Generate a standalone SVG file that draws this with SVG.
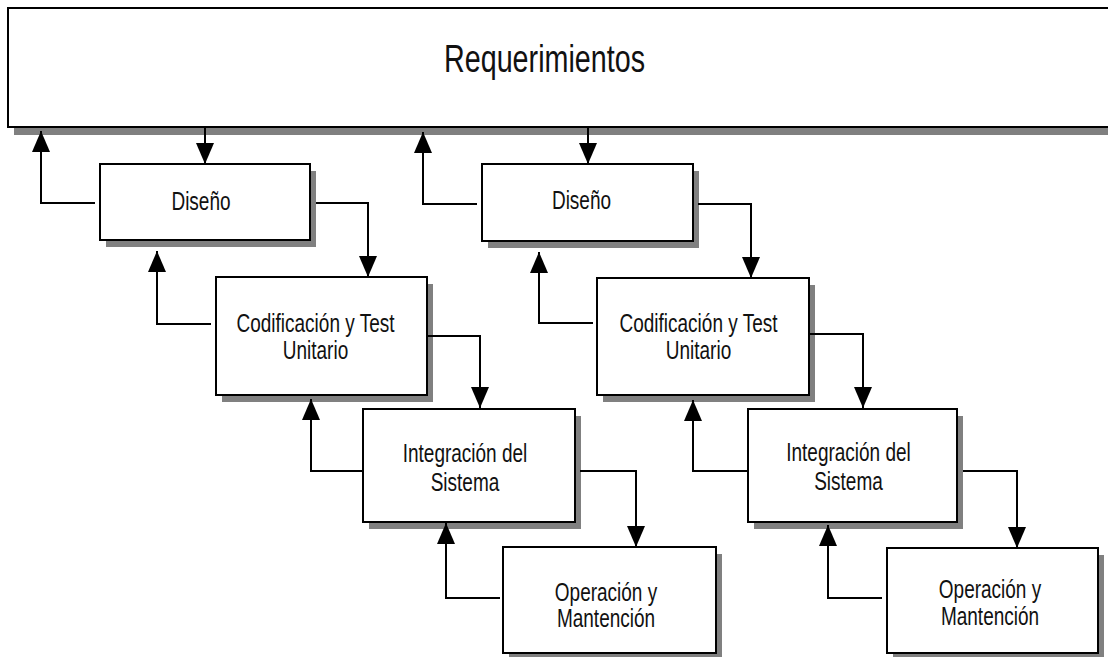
<svg xmlns="http://www.w3.org/2000/svg" width="1108" height="657" viewBox="0 0 1108 657">
<style>
.shadow{fill:#808080;stroke:none}
.box{fill:#fff;stroke:#000;stroke-width:2}
.lbl{font-family:"Liberation Sans",Arial,sans-serif;font-size:19px;fill:#111;text-anchor:middle}
.big{font-size:28.7px}
.conn path{fill:none;stroke:#000;stroke-width:2;marker-end:url(#arr)}
</style>
<defs>
<marker id="arr" markerUnits="userSpaceOnUse" markerWidth="22" markerHeight="18" refX="21" refY="9" orient="auto">
<path d="M0,0 L21,9 L0,18 Z" fill="#000"/>
</marker>
</defs>
<rect width="1108" height="657" fill="#fff"/>

<g id="requerimientos">
<rect class="shadow" x="14" y="16" width="1110" height="119"/>
<rect class="box" x="8" y="8" width="1110" height="119"/>
<text class="lbl big" transform="translate(544.5,72) scale(1,1.38)">Requerimientos</text>
</g>

<g id="diseno1">
<rect class="shadow" x="106" y="171" width="210" height="76"/>
<rect class="box" x="100" y="164" width="210" height="76"/>
<text class="lbl" transform="translate(201,210) scale(1,1.33)">Diseño</text>
</g>
<g id="codificacion1">
<rect class="shadow" x="222" y="284" width="211" height="118"/>
<rect class="box" x="216" y="277" width="211" height="118"/>
<text class="lbl" transform="translate(315.5,332) scale(1,1.33)"><tspan x="0" y="0">Codificación y Test</tspan><tspan x="0" y="20.3">Unitario</tspan></text>
</g>
<g id="integracion1">
<rect class="shadow" x="369" y="416" width="212" height="113"/>
<rect class="box" x="363" y="409" width="212" height="113"/>
<text class="lbl" transform="translate(465,462) scale(1,1.33)"><tspan x="0" y="0">Integración del</tspan><tspan x="0" y="21.8">Sistema</tspan></text>
</g>
<g id="operacion1">
<rect class="shadow" x="509" y="554" width="213" height="106"/>
<rect class="box" x="503" y="547" width="213" height="106"/>
<text class="lbl" transform="translate(606,601) scale(1,1.33)"><tspan x="0" y="0">Operación y</tspan><tspan x="0" y="19.5">Mantención</tspan></text>
</g>

<g id="diseno2">
<rect class="shadow" x="488" y="171" width="211" height="77"/>
<rect class="box" x="482" y="164" width="211" height="77"/>
<text class="lbl" transform="translate(581.5,209) scale(1,1.33)">Diseño</text>
</g>
<g id="codificacion2">
<rect class="shadow" x="603" y="285" width="212" height="117"/>
<rect class="box" x="597" y="278" width="212" height="117"/>
<text class="lbl" transform="translate(698.5,332) scale(1,1.33)"><tspan x="0" y="0">Codificación y Test</tspan><tspan x="0" y="20.3">Unitario</tspan></text>
</g>
<g id="integracion2">
<rect class="shadow" x="754" y="416" width="209" height="113"/>
<rect class="box" x="748" y="409" width="209" height="113"/>
<text class="lbl" transform="translate(848.5,461) scale(1,1.33)"><tspan x="0" y="0">Integración del</tspan><tspan x="0" y="21.8">Sistema</tspan></text>
</g>
<g id="operacion2">
<rect class="shadow" x="893" y="555" width="211" height="105"/>
<rect class="box" x="887" y="548" width="211" height="105"/>
<text class="lbl" transform="translate(990,598) scale(1,1.33)"><tspan x="0" y="0">Operación y</tspan><tspan x="0" y="20.3">Mantención</tspan></text>
</g>

<g id="connectors" class="conn">
<path d="M205,128 V164"/>
<path d="M95,203 H41 V131"/>
<path d="M316,203 H368 V277"/>
<path d="M211,324 H157 V251"/>
<path d="M428,336 H480 V408"/>
<path d="M363,471 H311 V399"/>
<path d="M580,471 H636 V547"/>
<path d="M500,598 H446 V523"/>

<path d="M588,128 V164"/>
<path d="M477,204 H423 V132"/>
<path d="M698,204 H751 V278"/>
<path d="M593,323 H539 V252"/>
<path d="M810,334 H863 V408"/>
<path d="M747,471 H693 V400"/>
<path d="M963,471 H1017 V548"/>
<path d="M882,598 H828 V525"/>
</g>
</svg>
